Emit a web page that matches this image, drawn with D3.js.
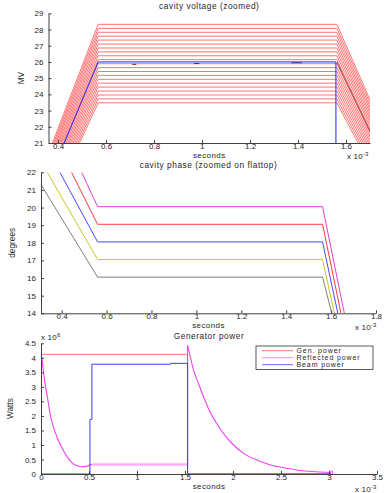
<!DOCTYPE html>
<html>
<head>
<meta charset="utf-8">
<script src="https://cdn.jsdelivr.net/npm/d3@7"></script>
<style>
  body { margin: 0; background: #fff; }
  svg { display: block; font-family: "Liberation Sans", Arial, sans-serif; }
</style>
</head>
<body>
<svg id="chart" width="385" height="493"></svg>
<script>
// ---- cavity voltage (MV vs ms) ----
const voltKnotT = [-0.17, 0.567, 1.562, 2.4];
const voltLevels = [23.48, 23.72, 23.96, 24.2, 24.45, 24.69, 24.93, 25.17, 25.41, 25.65, 25.89,
                    26.14, 26.38, 26.62, 26.86, 27.1, 27.35, 27.59, 27.83, 28.07, 28.32];
const beamVoltT = [-0.17, 0.567, 1.558, 1.558];
const beamVoltV = [0, 26, 26, 0];
const darkVoltT = [1.562, 2.4];
const darkVoltV = [26, 0];
const darkMarks = [[0.709, 0.726, 25.85], [0.967, 0.988, 25.9], [1.372, 1.416, 25.95]];

// ---- cavity phase (degrees vs ms) ----
const phaseColors = ['#808080', '#c8c820', '#4848ff', '#ff3838', '#e040e0'];
const phaseStartT = [0.308, 0.336, 0.392, 0.444, 0.489];
const phaseStartV = [21.3, 22, 22, 22, 22];
const phaseFlatT = [0.56, 1.562];
const phaseFlatV = [16.05, 17.05, 18.05, 19.05, 20.05];
const phaseEndT = [1.603, 1.615, 1.63, 1.644, 1.659];
const phaseEndV = 14;

// ---- generator power (1e6 W vs ms) ----
const genT = [0, 1.527, 1.527, 3.02];
const genV = [4.12, 4.12, 0, 0];
const beamT = [0, 0.51, 0.51, 0.53, 0.53, 1.35, 1.35, 1.527, 1.527, 3.02];
const beamV = [0, 0, 1.88, 1.88, 3.78, 3.78, 3.81, 3.81, 0, 0];
const reflFillT = [0, 0.007, 0.024, 0.042, 0.066, 0.094, 0.128, 0.18, 0.232, 0.284, 0.354, 0.424, 0.476, 0.51, 0.53];
const reflFillV = [4.1, 4.03, 3.57, 3.12, 2.66, 2.09, 1.63, 1.17, 0.82, 0.54, 0.31, 0.25, 0.27, 0.31, 0.33];
const reflFlatT = [0.53, 1.527];
const reflFlatV = [0.33, 0.33];
const reflDecayT = [1.527, 1.555, 1.59, 1.64, 1.693, 1.76, 1.83, 1.9, 1.99, 2.11, 2.25, 2.39, 2.56, 2.73, 2.9, 3.02];
const reflDecayV = [4.43, 4.03, 3.57, 3.12, 2.66, 2.14, 1.74, 1.4, 1.05, 0.71, 0.48, 0.31, 0.2, 0.11, 0.07, 0.05];
const legendLabels = ['Gen. power', 'Reflected power', 'Beam power'];
const legendColors = ['#ff7070', '#ff80ff', '#6a6aff'];

const svg = d3.select('#chart');
const fmt = d3.format('~g');
const FONT = '"Liberation Sans", Arial, sans-serif';
const INK = '#262626';

// one axes box: scales, clip, axes, labels
function panel(cfg) {
    const x = d3.scaleLinear().domain(cfg.xDomain).range([cfg.left, cfg.right]);
    const y = d3.scaleLinear().domain(cfg.yDomain).range([cfg.bottom, cfg.top]);

    svg.append('clipPath').attr('id', cfg.id + '-clip')
        .append('rect')
        .attr('x', cfg.left).attr('y', cfg.top)
        .attr('width', cfg.right - cfg.left).attr('height', cfg.bottom - cfg.top);

    const plot = svg.append('g').attr('clip-path', `url(#${cfg.id}-clip)`);

    const xa = svg.append('g')
        .attr('transform', `translate(0,${cfg.bottom})`)
        .call(d3.axisBottom(x).tickValues(cfg.xTicks).tickFormat(fmt)
            .tickSizeInner(-3).tickSizeOuter(0).tickPadding(0.5));

    const ya = svg.append('g')
        .attr('transform', `translate(${cfg.left},0)`)
        .call(d3.axisLeft(y).tickValues(cfg.yTicks).tickFormat(fmt)
            .tickSizeInner(-3).tickSizeOuter(0).tickPadding(5));

    [xa, ya].forEach(a => a
        .attr('color', '#404040')
        .attr('font-family', FONT)
        .attr('font-size', 8)
        .selectAll('text').attr('fill', INK));

    const mid = (cfg.left + cfg.right) / 2;
    svg.append('text').attr('x', mid).attr('y', cfg.top - 4)
        .attr('text-anchor', 'middle').attr('font-size', 8.3)
        .attr('letter-spacing', 0.55).attr('fill', INK)
        .text(cfg.title);
    svg.append('text').attr('x', mid).attr('y', cfg.bottom + 15)
        .attr('text-anchor', 'middle').attr('font-size', 8)
        .attr('letter-spacing', 0.4).attr('fill', INK)
        .text('seconds');
    svg.append('text')
        .attr('transform', `translate(${cfg.yLabelX},${(cfg.top + cfg.bottom) / 2}) rotate(-90)`)
        .attr('text-anchor', 'middle').attr('dy', '0.35em')
        .attr('font-size', 8.3).attr('fill', INK)
        .text(cfg.yLabel);

    return { x, y, plot };
}

// "x 10^n" multiplier labels
function multiplier(xPos, yPos, exp) {
    const t = svg.append('text').attr('x', xPos).attr('y', yPos)
        .attr('font-size', 8).attr('fill', INK).attr('letter-spacing', 0.2);
    t.append('tspan').text('x 10');
    t.append('tspan').attr('dy', -3).attr('font-size', 6).text(exp);
}

const line = (xs, ys) => d3.line().x(d => xs(d[0])).y(d => ys(d[1]));
const pts = (ts, vs) => ts.map((t, i) => [t, vs[i]]);

// ---------- cavity voltage ----------
const p1 = panel({
    id: 'p1', left: 48.5, right: 370, top: 13.3, bottom: 143,
    xDomain: [0.36, 1.70], yDomain: [21, 29],
    xTicks: [0.4, 0.6, 0.8, 1, 1.2, 1.4, 1.6], yTicks: d3.range(21, 30),
    title: 'cavity voltage (zoomed)', yLabel: 'MV', yLabelX: 21.5
});
const l1 = line(p1.x, p1.y);

p1.plot.selectAll('path.volt')
    .data(voltLevels)
    .enter()
    .append('path')
    .attr('class', 'volt')
    .attr('d', L => l1(pts(voltKnotT, [0, L, L, 0])))
    .attr('fill', 'none')
    .attr('stroke', '#ff5a5a')
    .attr('stroke-width', 0.85);

p1.plot.selectAll('line.mark')
    .data(darkMarks)
    .enter()
    .append('line')
    .attr('class', 'mark')
    .attr('x1', d => p1.x(d[0])).attr('x2', d => p1.x(d[1]))
    .attr('y1', d => p1.y(d[2])).attr('y2', d => p1.y(d[2]))
    .attr('stroke', '#7a2020').attr('stroke-width', 1);

p1.plot.append('path')
    .attr('d', l1(pts(darkVoltT, darkVoltV)))
    .attr('fill', 'none').attr('stroke', '#8a2020').attr('stroke-width', 0.8);

p1.plot.append('path')
    .attr('d', l1(pts(beamVoltT, beamVoltV)))
    .attr('fill', 'none').attr('stroke', '#2020ff').attr('stroke-width', 1);

multiplier(347, 159, '-3');

// ---------- cavity phase ----------
const p2 = panel({
    id: 'p2', left: 41, right: 376, top: 172.3, bottom: 313.3,
    xDomain: [0.308, 1.8], yDomain: [14, 22],
    xTicks: [0.4, 0.6, 0.8, 1, 1.2, 1.4, 1.6, 1.8], yTicks: d3.range(14, 23),
    title: 'cavity phase (zoomed on flattop)', yLabel: 'degrees', yLabelX: 12.5
});
const l2 = line(p2.x, p2.y);

p2.plot.selectAll('path.phase')
    .data(phaseFlatV)
    .enter()
    .append('path')
    .attr('class', 'phase')
    .attr('d', (v, i) => l2([
        [phaseStartT[i], phaseStartV[i]],
        [phaseFlatT[0], v],
        [phaseFlatT[1], v],
        [phaseEndT[i], phaseEndV]
    ]))
    .attr('fill', 'none')
    .attr('stroke', (v, i) => phaseColors[i])
    .attr('stroke-width', 1);

multiplier(355, 330, '-3');

// ---------- generator power ----------
const p3 = panel({
    id: 'p3', left: 41, right: 377, top: 343.3, bottom: 474,
    xDomain: [0, 3.5], yDomain: [0, 4.5],
    xTicks: d3.range(0, 3.51, 0.5), yTicks: d3.range(0, 4.51, 0.5),
    title: 'Generator power', yLabel: 'Watts', yLabelX: 10
});
const l3 = line(p3.x, p3.y);
const l3s = line(p3.x, p3.y).curve(d3.curveMonotoneX);

p3.plot.append('path')
    .attr('d', l3(pts(genT, genV)))
    .attr('fill', 'none').attr('stroke', legendColors[0]).attr('stroke-width', 1);

p3.plot.append('path')
    .attr('d', l3(pts(reflFlatT, reflFlatV)))
    .attr('fill', 'none').attr('stroke', '#ffb0ff').attr('stroke-width', 2.5);
p3.plot.append('path')
    .attr('d', l3s(pts(reflFillT, reflFillV)))
    .attr('fill', 'none').attr('stroke', '#f040f0').attr('stroke-width', 1.1);
p3.plot.append('path')
    .attr('d', l3([[reflFlatT[1], reflFlatV[1]], [reflDecayT[0], reflDecayV[0]]]))
    .attr('fill', 'none').attr('stroke', '#f040f0').attr('stroke-width', 1);
p3.plot.append('path')
    .attr('d', l3s(pts(reflDecayT, reflDecayV)))
    .attr('fill', 'none').attr('stroke', '#f040f0').attr('stroke-width', 1.1);
// end-of-trace marker
p3.plot.append('rect')
    .attr('x', p3.x(reflDecayT[reflDecayT.length - 1]) - 1.5)
    .attr('y', p3.y(reflDecayV[reflDecayV.length - 1]) - 1.5)
    .attr('width', 3).attr('height', 3)
    .attr('fill', 'none').attr('stroke', '#f040f0').attr('stroke-width', 0.8);

p3.plot.append('path')
    .attr('d', l3(pts(beamT, beamV)))
    .attr('fill', 'none').attr('stroke', '#3a3aff').attr('stroke-width', 1);

multiplier(41, 340, '6');
multiplier(355, 492, '-3');

// legend
const legend = svg.append('g').attr('transform', 'translate(256,346)');
legend.append('rect')
    .attr('width', 117).attr('height', 23.5)
    .attr('fill', '#fff').attr('stroke', '#333').attr('stroke-width', 0.8);
const rows = legend.selectAll('g.row')
    .data(legendLabels)
    .enter()
    .append('g')
    .attr('class', 'row')
    .attr('transform', (d, i) => `translate(0,${4.7 + i * 7})`);
rows.append('line')
    .attr('x1', 6).attr('x2', 37)
    .attr('stroke', (d, i) => legendColors[i]).attr('stroke-width', 1);
rows.append('text')
    .attr('x', 40.5).attr('dy', '0.35em')
    .attr('font-size', 7).attr('letter-spacing', 0.9).attr('fill', INK)
    .text(d => d);
</script>
</body>
</html>
